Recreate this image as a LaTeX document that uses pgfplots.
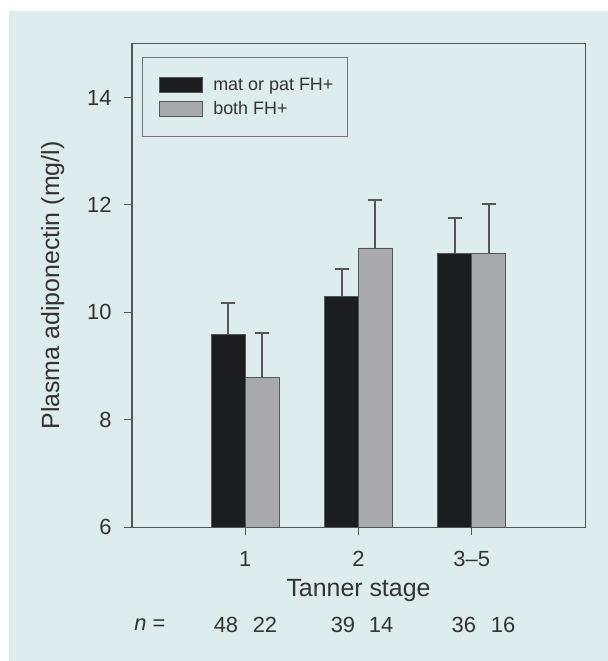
\documentclass[border=0pt]{standalone}
\usepackage{fontspec}
\setmainfont{Liberation Sans}
\usepackage{pgfplots}
\pgfplotsset{compat=1.18}
\definecolor{panel}{HTML}{DDECEC}
\definecolor{barblack}{HTML}{1C1D1F}
\definecolor{bargray}{HTML}{A8A9AC}
\definecolor{edge}{HTML}{555555}
\definecolor{txt}{HTML}{333333}
\pgfplotsset{
  my legend/.style={legend image code/.code={\draw[##1,/tikz/.cd,draw=edge,line width=0.8bp] (-21.5bp,-7.5bp) rectangle (21.5bp,7.5bp);}},
}
\begin{document}
\begin{tikzpicture}[x=1bp,y=1bp]
\path[use as bounding box] (-132,-134) rectangle (476,527);
\fill[panel] (-123,-134) rectangle (476,516);
\begin{axis}[
  at={(0,0)}, anchor=south west,
  scale only axis, width=453bp, height=483bp,
  xmin=0, xmax=4, ymin=6, ymax=15,
  ybar, clip=false,
  xtick={1,2,3}, xticklabels={1,2,3--5},
  ytick={6,8,10,12,14},
  tick align=outside, tick pos=left,
  major tick length=8bp,
  axis line style={draw=edge, line width=1bp},
  major tick style={draw=edge, line width=1bp},
  tick label style={font=\fontsize{22}{26}\selectfont, text=txt},
  /pgf/number format/assume math mode=true,
  yticklabel style={xshift=-9bp},
  xticklabel style={yshift=-13bp},
  xlabel={Tanner stage},
  ylabel={Plasma adiponectin (mg/l)},
  label style={font=\fontsize{25}{30}\selectfont, text=txt},
  xlabel style={at={(axis description cs:0.5,0)}, anchor=center, yshift=-64bp},
  ylabel style={at={(axis description cs:-0.175,0.5)}, anchor=center},
  legend style={at={(0.0221,0.9731)}, anchor=north west, draw=edge!80, fill=panel,
    line width=1bp, font=\fontsize{18}{21}\selectfont, text=txt,
    inner xsep=16bp, inner ysep=18.5bp, row sep=6bp, column sep=9bp},
  legend cell align=left,
  my legend,
]
\addplot[fill=barblack, draw=edge, line width=0.8bp, bar width=0.3, bar shift=-0.15,
  error bars/.cd, y dir=plus, y explicit,
  error bar style={draw=edge, line width=2bp},
  error mark options={rotate=90, draw=edge, line width=2bp, mark size=7bp}]
  coordinates {(1,9.59) +- (0,0.58) (2,10.30) +- (0,0.50) (3,11.10) +- (0,0.65)};
\addlegendentry{\makebox[116bp][l]{mat or pat FH+}}
\addplot[fill=bargray, draw=edge, line width=0.8bp, bar width=0.3, bar shift=0.15,
  error bars/.cd, y dir=plus, y explicit,
  error bar style={draw=edge, line width=2bp},
  error mark options={rotate=90, draw=edge, line width=2bp, mark size=7bp}]
  coordinates {(1,8.79) +- (0,0.83) (2,11.20) +- (0,0.89) (3,11.10) +- (0,0.92)};
\addlegendentry{\makebox[116bp][l]{both FH+}}
\begin{scope}[every node/.style={font=\fontsize{22}{26}\selectfont, text=txt, anchor=center}]
\node at (axis cs:0.159,6) [yshift=-98bp] {\textit{n} =};
\node at (axis cs:0.83,6) [yshift=-98bp] {48};
\node at (axis cs:1.174,6) [yshift=-98bp] {22};
\node at (axis cs:1.863,6) [yshift=-98bp] {39};
\node at (axis cs:2.199,6) [yshift=-98bp] {14};
\node at (axis cs:2.93,6) [yshift=-98bp] {36};
\node at (axis cs:3.276,6) [yshift=-98bp] {16};
\end{scope}
\end{axis}
\end{tikzpicture}
\end{document}
